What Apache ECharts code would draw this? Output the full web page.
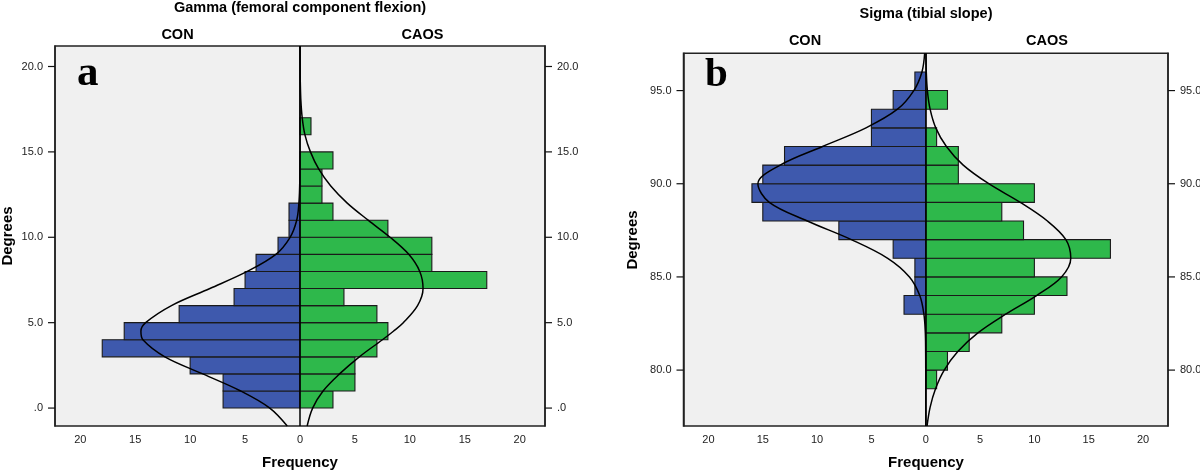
<!DOCTYPE html>
<html>
<head>
<meta charset="utf-8">
<script src="https://cdn.jsdelivr.net/npm/echarts@6/dist/echarts.min.js"></script>
<style>
  html, body { margin: 0; padding: 0; background: #ffffff; }
  #chart { width: 1200px; height: 472px; }
</style>
</head>
<body>
<div id="chart"></div>
<script>
// ---------- Panel a: Gamma (femoral component flexion) ----------
const binLowA = [0, 1, 2, 3, 4, 5, 6, 7, 8, 9, 10, 11, 12, 13, 14, 15, 16];
const conA    = [7, 7, 10, 18, 16, 11, 6, 5, 4, 2, 1, 1, 0, 0, 0, 0, 0];
const caosA   = [3, 5, 5, 7, 8, 7, 4, 17, 12, 12, 8, 3, 2, 2, 3, 0, 1];

const curveYA     = [-1.05, 0, 1, 2, 3, 4, 4.5, 5, 6, 7, 8, 9, 10, 11, 12, 13, 14, 15, 16, 17, 18, 19, 20, 21.2];
const conCurveA   = [1.16, 2.75, 5.4, 8.85, 12.3, 14.3, 14.48, 14.05, 11.7, 8.2, 4.8, 2.2, 0.9, 0.3, 0.1, 0.03, 0.01, 0, 0, 0, 0, 0, 0, 0];
const caosCurveA  = [0.65, 1.15, 2.1, 3.6, 5.4, 7.5, 8.5, 9.4, 10.7, 11.2, 10.9, 9.9, 8.2, 6.2, 4.3, 2.8, 1.7, 0.95, 0.45, 0.2, 0.08, 0.03, 0.01, 0];

// ---------- Panel b: Sigma (tibial slope) ----------
const binLowB = [79, 80, 81, 82, 83, 84, 85, 86, 87, 88, 89, 90, 91, 92, 93, 94, 95];
const conB    = [0, 0, 0, 0, 2, 1, 1, 3, 8, 15, 16, 15, 13, 5, 5, 3, 1];
const caosB   = [1, 2, 4, 7, 10, 13, 10, 17, 9, 7, 10, 3, 3, 1, 0, 2, 0];

const curveYB     = [77, 78, 79, 80, 81, 82, 83, 84, 85, 86, 87, 88, 89, 90, 91, 92, 93, 94, 95, 96, 97];
const conCurveB   = [0, 0, 0, 0.002, 0.01, 0.04, 0.17, 0.55, 1.5, 3.5, 6.85, 10.9, 14.4, 15.45, 13.4, 9.5, 5.5, 2.6, 1.1, 0.35, 0.1];
const caosCurveB  = [0.12, 0.4, 0.9, 1.7, 2.95, 4.8, 7.35, 10.2, 12.5, 13.35, 12.9, 11.2, 8.7, 5.8, 3.45, 1.9, 0.92, 0.4, 0.15, 0.05, 0.02];

// ---------- Tick labels ----------
const freqTicks = [-20, -15, -10, -5, 0, 5, 10, 15, 20];
const degTicksA = [0, 5, 10, 15, 20];
const degTicksB = [80, 85, 90, 95];

const titleA = 'Gamma (femoral component flexion)';
const titleB = 'Sigma (tibial slope)';
const groupNames = ['CON', 'CAOS'];
const xTitle = 'Frequency';
const yTitle = 'Degrees';

const BLUE = '#3e59ad';
const GREEN = '#2eb84b';
const FONT = '"Liberation Sans", Arial, sans-serif';

function barData(lows, counts, sign) {
  const out = [];
  for (let i = 0; i < lows.length; i++) {
    if (counts[i] > 0) out.push([lows[i], lows[i] + 1, sign * counts[i]]);
  }
  return out;
}
function curveData(ys, xs, sign) {
  return ys.map((y, i) => [sign * xs[i], y]);
}
function renderBar(color) {
  return function (params, api) {
    const lo = api.value(0), hi = api.value(1), v = api.value(2);
    const p0 = api.coord([0, hi]);
    const p1 = api.coord([v, lo]);
    return {
      type: 'rect',
      shape: { x: Math.min(p0[0], p1[0]), y: p0[1], width: Math.abs(p1[0] - p0[0]), height: p1[1] - p0[1] },
      style: { fill: color, stroke: '#1a1a1a', lineWidth: 1.1 }
    };
  };
}
// outward tick marks on both vertical frame sides, at the axis tick values
function renderTicks(params, api) {
  const cs = params.coordSys;
  const y = api.coord([0, api.value(0)])[1];
  return {
    type: 'group',
    children: [
      { type: 'line', shape: { x1: cs.x - 7, y1: y, x2: cs.x, y2: y }, style: { stroke: '#111', lineWidth: 1.2 } },
      { type: 'line', shape: { x1: cs.x + cs.width, y1: y, x2: cs.x + cs.width + 7, y2: y }, style: { stroke: '#111', lineWidth: 1.2 } }
    ]
  };
}
const degFmt = v => (v === 0 ? '.0' : v.toFixed(1));

function xAxisCfg(gi) {
  return {
    gridIndex: gi, type: 'value', min: -22.3, max: 22.3,
    axisLine: { show: false, onZero: false }, axisTick: { show: false }, splitLine: { show: false },
    axisLabel: { customValues: freqTicks, formatter: v => String(Math.abs(v)), color: '#222', fontSize: 11, fontFamily: FONT, margin: 8 }
  };
}
function yAxisCfg(gi, pos, min, max, ticks) {
  return {
    gridIndex: gi, type: 'value', position: pos, min: min, max: max,
    axisLine: { show: true, onZero: false, lineStyle: { color: '#222', width: 1.5 } }, splitLine: { show: false },
    axisTick: { show: false },
    axisLabel: { customValues: ticks, formatter: degFmt, color: '#222', fontSize: 11, fontFamily: FONT, margin: 12 }
  };
}
function curveSeries(xi, yi, data) {
  return {
    type: 'line', xAxisIndex: xi, yAxisIndex: yi, data: data,
    smooth: 0.35, showSymbol: false, symbol: 'none', silent: true,
    lineStyle: { color: '#000', width: 1.5 }, z: 3
  };
}
function zeroLine(xi, yi) {
  return {
    type: 'line', xAxisIndex: xi, yAxisIndex: yi, data: [], silent: true, z: 4,
    markLine: { silent: true, symbol: ['none', 'none'], label: { show: false },
      lineStyle: { color: '#000', width: 1.5, type: 'solid' }, data: [{ xAxis: 0 }] }
  };
}
function tickSeries(xi, yi, ticks) {
  return { type: 'custom', xAxisIndex: xi, yAxisIndex: yi, clip: false, silent: true, z: 5,
    renderItem: renderTicks, data: ticks.map(v => [v]), encode: { y: 0 } };
}

const chart = echarts.init(document.getElementById('chart'), null, { renderer: 'canvas' });

const textStyle = (size, weight, family) => ({ fontSize: size, fontWeight: weight, fontFamily: family || FONT, fill: '#000', align: 'center', verticalAlign: 'middle' });

chart.setOption({
  animation: false,
  backgroundColor: '#ffffff',
  grid: [
    { left: 55, top: 46, width: 490, height: 380, show: true, backgroundColor: '#f0f0f0', borderColor: '#222', borderWidth: 1.5, containLabel: false, outerBoundsMode: 'none' },
    { left: 683.5, top: 53.3, width: 484.5, height: 372.7, show: true, backgroundColor: '#f0f0f0', borderColor: '#222', borderWidth: 1.5, containLabel: false, outerBoundsMode: 'none' }
  ],
  xAxis: [xAxisCfg(0), xAxisCfg(1)],
  yAxis: [
    yAxisCfg(0, 'left', -1.05, 21.2, degTicksA),
    yAxisCfg(0, 'right', -1.05, 21.2, degTicksA),
    yAxisCfg(1, 'left', 77, 97, degTicksB),
    yAxisCfg(1, 'right', 77, 97, degTicksB)
  ],
  series: [
    { type: 'custom', xAxisIndex: 0, yAxisIndex: 0, renderItem: renderBar(BLUE), data: barData(binLowA, conA, -1), encode: { x: 2, y: [0, 1] }, z: 2 },
    { type: 'custom', xAxisIndex: 0, yAxisIndex: 0, renderItem: renderBar(GREEN), data: barData(binLowA, caosA, 1), encode: { x: 2, y: [0, 1] }, z: 2 },
    curveSeries(0, 0, curveData(curveYA, conCurveA, -1)),
    curveSeries(0, 0, curveData(curveYA, caosCurveA, 1)),
    zeroLine(0, 0),
    tickSeries(0, 0, degTicksA),
    { type: 'custom', xAxisIndex: 1, yAxisIndex: 2, renderItem: renderBar(BLUE), data: barData(binLowB, conB, -1), encode: { x: 2, y: [0, 1] }, z: 2 },
    { type: 'custom', xAxisIndex: 1, yAxisIndex: 2, renderItem: renderBar(GREEN), data: barData(binLowB, caosB, 1), encode: { x: 2, y: [0, 1] }, z: 2 },
    curveSeries(1, 2, curveData(curveYB, conCurveB, -1)),
    curveSeries(1, 2, curveData(curveYB, caosCurveB, 1)),
    zeroLine(1, 2),
    tickSeries(1, 2, degTicksB)
  ],
  graphic: [
    { type: 'text', x: 300, y: 8, style: Object.assign({ text: titleA }, textStyle(14.5, 'bold')) },
    { type: 'text', x: 177.5, y: 34.5, style: Object.assign({ text: groupNames[0] }, textStyle(14.5, 'bold')) },
    { type: 'text', x: 422.5, y: 34.5, style: Object.assign({ text: groupNames[1] }, textStyle(14.5, 'bold')) },
    { type: 'text', x: 300, y: 463, style: Object.assign({ text: xTitle }, textStyle(15, 'bold')) },
    { type: 'text', x: 8, y: 236, rotation: Math.PI / 2, style: Object.assign({ text: yTitle }, textStyle(15, 'bold')) },
    { type: 'text', x: 77, y: 74, style: { text: 'a', fontSize: 43, fontWeight: 'bold', fontFamily: '"Liberation Serif", "Times New Roman", serif', fill: '#000', align: 'left', verticalAlign: 'middle' } },

    { type: 'text', x: 926, y: 13.5, style: Object.assign({ text: titleB }, textStyle(14.5, 'bold')) },
    { type: 'text', x: 805, y: 41, style: Object.assign({ text: groupNames[0] }, textStyle(14.5, 'bold')) },
    { type: 'text', x: 1047, y: 41, style: Object.assign({ text: groupNames[1] }, textStyle(14.5, 'bold')) },
    { type: 'text', x: 926, y: 463, style: Object.assign({ text: xTitle }, textStyle(15, 'bold')) },
    { type: 'text', x: 633, y: 240, rotation: Math.PI / 2, style: Object.assign({ text: yTitle }, textStyle(15, 'bold')) },
    { type: 'text', x: 705, y: 75, style: { text: 'b', fontSize: 41, fontWeight: 'bold', fontFamily: '"Liberation Serif", "Times New Roman", serif', fill: '#000', align: 'left', verticalAlign: 'middle' } }
  ]
});
</script>
</body>
</html>
